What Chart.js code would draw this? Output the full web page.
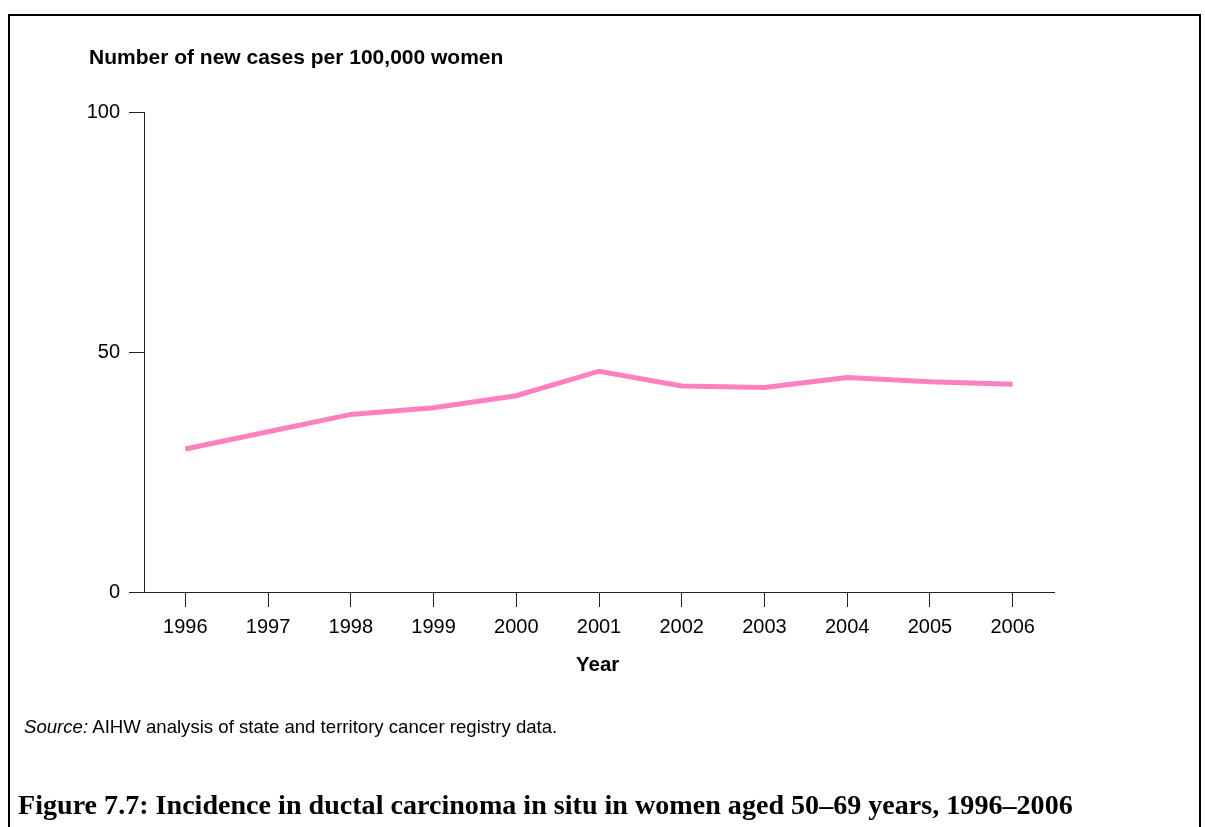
<!DOCTYPE html>
<html>
<head>
<meta charset="utf-8">
<script src="https://cdn.jsdelivr.net/npm/chart.js@4"></script>
<style>
  body { margin: 0; width: 1205px; height: 827px; background: #fff; position: relative; overflow: hidden; font-family: "Liberation Sans", Arial, sans-serif; }
  #frame { position: absolute; left: 8px; top: 14px; width: 1189px; height: 900px; border: 2px solid #000; }
  #wrap { position: absolute; left: 0; top: 0; width: 1205px; height: 827px; }
  .txt { position: absolute; white-space: nowrap; color: #000; }
  #ytitle { left: 89px; top: 45px; font-size: 21px; font-weight: bold; }
  #xtitle { left: 576px; top: 652px; font-size: 20.5px; font-weight: bold; }
  #source { left: 24px; top: 716px; font-size: 18.6px; }
  #caption { left: 18px; top: 790px; font-size: 27px; font-weight: bold; font-family: "Liberation Serif", serif; transform-origin: 0 0; }
</style>
</head>
<body>
<div id="frame"></div>
<div id="wrap"><canvas id="myChart"></canvas></div>
<div class="txt" id="ytitle">Number of new cases per 100,000 women</div>
<div class="txt" id="xtitle">Year</div>
<div class="txt" id="source"><i>Source:</i> AIHW analysis of state and territory cancer registry data.</div>
<div class="txt" id="caption">Figure 7.7: Incidence in ductal carcinoma in situ in women aged 50–69 years, 1996–2006</div>
<script>
const ctx = document.querySelector('#myChart');

const years = ['1996', '1997', '1998', '1999', '2000', '2001', '2002', '2003', '2004', '2005', '2006']
const incidence = [29.8, 33.4, 37.0, 38.4, 40.9, 46.0, 42.9, 42.6, 44.7, 43.8, 43.3]
const yTicks = [0, 50, 100]

const axisColor = '#222'

// stretch the caption to the width it has in the printed figure
const cap = document.querySelector('#caption')
cap.style.transform = 'scaleX(' + (1055 / cap.offsetWidth) + ')'

const data = {
  labels: years,
  datasets: [{
    label: 'DCIS incidence',
    data: incidence,
    borderColor: 'rgb(255, 128, 192)',
    backgroundColor: 'rgb(255, 128, 192)',
    borderWidth: 5,
    pointRadius: 0,
    tension: 0,
  }]
};

const config = {
  type: 'line',
  data: data,
  options: {
    responsive: false,
    animation: false,
    layout: {
      padding: { left: 0, top: 112, right: 151, bottom: 190 }
    },
    plugins: {
      legend: { display: false },
      tooltip: { enabled: false }
    },
    scales: {
      x: {
        offset: true,
        afterFit: (scale) => { scale.height = 45 },
        grid: { drawOnChartArea: false, offset: false, tickLength: 15, color: axisColor, lineWidth: 1 },
        border: { color: axisColor, width: 1 },
        ticks: { color: '#000', padding: 8, maxRotation: 0, font: { family: 'Liberation Sans', size: 20 } }
      },
      y: {
        min: 0,
        max: 100,
        afterFit: (scale) => { scale.width = 144 },
        afterBuildTicks: (scale) => { scale.ticks = yTicks.map(v => ({ value: v })) },
        grid: { drawOnChartArea: false, tickLength: 15, color: axisColor, lineWidth: 1 },
        border: { color: axisColor, width: 1 },
        ticks: { color: '#000', padding: 9, font: { family: 'Liberation Sans', size: 20 } }
      }
    }
  }
};

ctx.width = 1205
ctx.height = 827
const myChart = new Chart(ctx, config)
</script>
</body>
</html>
